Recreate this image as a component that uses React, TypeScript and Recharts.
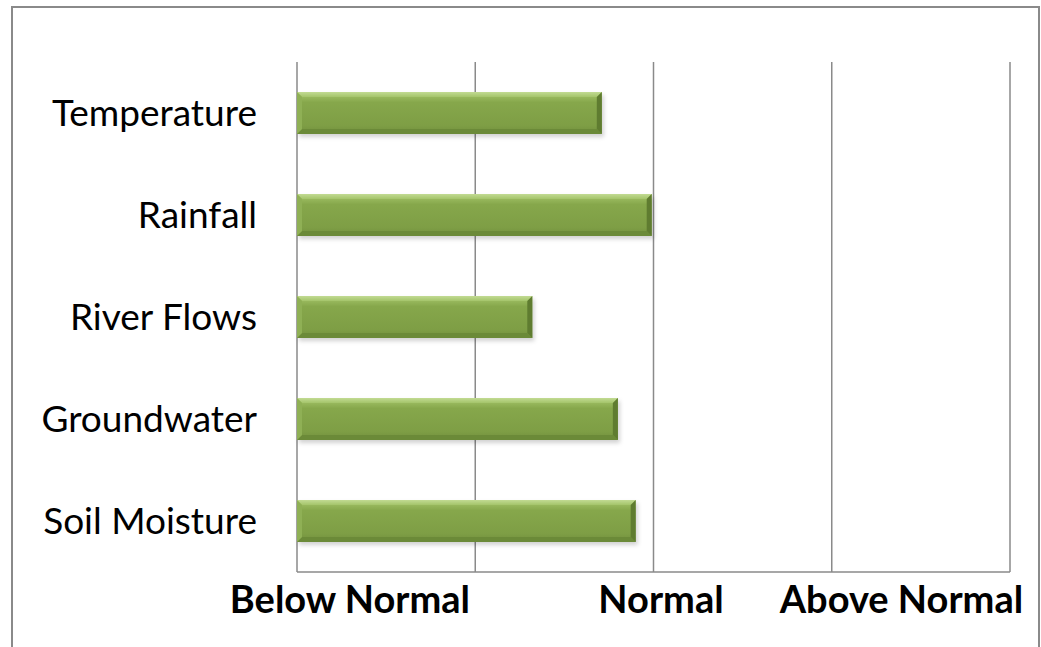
import React from 'react';
import { BarChart, Bar, XAxis, YAxis, CartesianGrid } from 'recharts';

const categories = ['Temperature', 'Rainfall', 'River Flows', 'Groundwater', 'Soil Moisture'];
const values = [1.71, 1.99, 1.32, 1.8, 1.9];
const gridTicks = [0, 1, 2, 3, 4];
const labelTickValues = [0.297, 2.042, 3.391];
const labelTickTexts = ['Below Normal', 'Normal', 'Above Normal'];

const data = categories.map((name, i) => ({ name, value: values[i] }));

const FONT = 'Lato, "Open Sans", sans-serif';

const BevelBar = (props: any) => {
  const { x, y, width, height } = props;
  if (!width || width <= 0) return null;
  const b = 5;
  return (
    <g>
      <rect x={x + 2} y={y + 3} width={width} height={height} fill="rgba(0,0,0,0.18)" filter="url(#shadowBlur)" />
      <rect x={x} y={y} width={width} height={height} fill="url(#barMain)" />
      <polygon points={`${x},${y} ${x + width},${y} ${x + width - b},${y + b} ${x + b},${y + b}`} fill="url(#barTop)" />
      <polygon points={`${x + width},${y} ${x + width},${y + height} ${x + width - b},${y + height - b} ${x + width - b},${y + b}`} fill="#5f7c30" />
      <polygon points={`${x},${y + height} ${x + width},${y + height} ${x + width - b},${y + height - b} ${x + b},${y + height - b}`} fill="#6b8a38" />
      <polygon points={`${x},${y} ${x + b},${y + b} ${x + b},${y + height - b} ${x},${y + height}`} fill="#8fb055" />
    </g>
  );
};

const renderLabelTick = (props: any) => {
  const { x, y, payload } = props;
  const idx = labelTickValues.findIndex((v) => Math.abs(v - Number(payload?.value)) < 1e-6);
  const text = idx >= 0 ? labelTickTexts[idx] : '';
  return (
    <text x={x} y={Number(y) + 41} textAnchor="middle" fontFamily={FONT} fontWeight={700} fontSize={38} fill="#000">
      {text}
    </text>
  );
};

export default function App() {
  return (
    <div style={{ position: 'fixed', left: 0, top: 0, width: 1041, height: 647, background: '#fff', overflow: 'hidden' }}>
      <div
        style={{
          position: 'absolute',
          left: 11,
          top: 6,
          width: 1025,
          height: 660,
          borderLeft: '2px solid #8a8a8a',
          borderTop: '2px solid #8a8a8a',
          borderRight: '2px solid #8a8a8a',
        }}
      />
      <div style={{ position: 'absolute', left: 0, top: 0 }}>
        <BarChart
          width={1041}
          height={647}
          data={data}
          layout="vertical"
          margin={{ top: 62, right: 31, bottom: 0, left: 0 }}
        >
          <defs>
            <linearGradient id="barMain" x1="0" y1="0" x2="0" y2="1">
              <stop offset="0%" stopColor="#a7c76c" />
              <stop offset="25%" stopColor="#86a74b" />
              <stop offset="80%" stopColor="#7e9e45" />
              <stop offset="100%" stopColor="#728f3d" />
            </linearGradient>
            <linearGradient id="barTop" x1="0" y1="0" x2="0" y2="1">
              <stop offset="0%" stopColor="#c2db93" />
              <stop offset="100%" stopColor="#a4c46a" />
            </linearGradient>
            <filter id="shadowBlur" x="-5%" y="-20%" width="110%" height="150%">
              <feGaussianBlur stdDeviation="2" />
            </filter>
          </defs>
          <CartesianGrid horizontal={false} verticalValues={gridTicks} stroke="#8a8a8a" strokeWidth={1.5} />
          <XAxis
            type="number"
            domain={[0, 4]}
            ticks={labelTickValues}
            interval={0}
            height={75}
            tickLine={false}
            tickSize={0}
            tickMargin={0}
            axisLine={{ stroke: '#8a8a8a', strokeWidth: 1.5 }}
            tick={renderLabelTick}
          />
          <YAxis
            type="category"
            dataKey="name"
            width={297}
            axisLine={false}
            tickLine={false}
            tickSize={0}
            tickMargin={40}
            tick={{ fontFamily: FONT, fontSize: 37, fill: '#000' }}
          />
          <Bar dataKey="value" barSize={42} shape={<BevelBar />} isAnimationActive={false} />
        </BarChart>
      </div>
    </div>
  );
}
